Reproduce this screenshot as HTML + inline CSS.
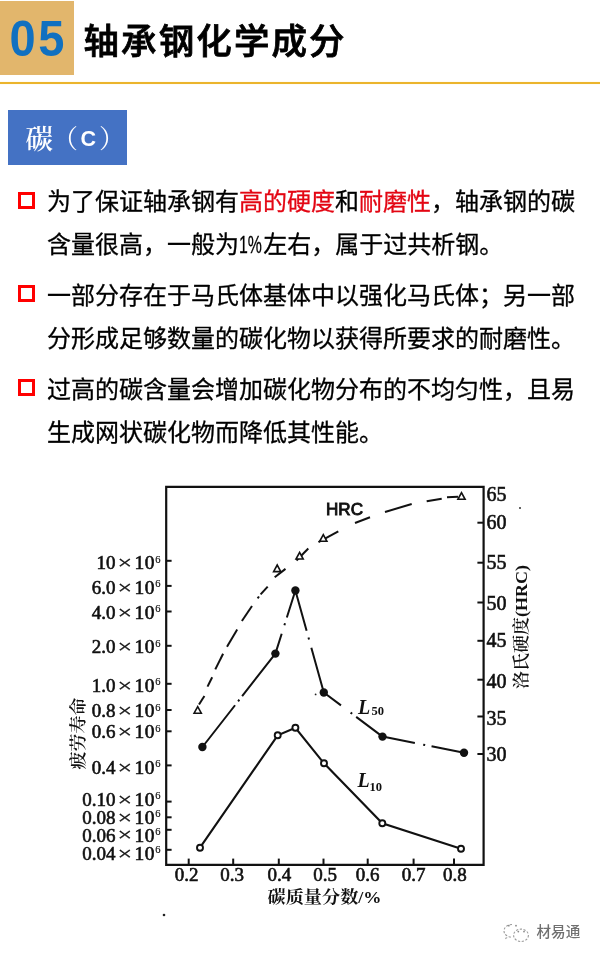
<!DOCTYPE html>
<html lang="zh-CN">
<head>
<meta charset="utf-8">
<title>轴承钢化学成分</title>
<style>
html,body{margin:0;padding:0;background:#fff;}
body{width:600px;height:960px;position:relative;overflow:hidden;font-family:"Liberation Sans","Noto Sans CJK SC",sans-serif;color:#000;}
.numbox{position:absolute;left:0;top:1px;width:74px;height:74px;background:#e2b66c;}
.num{position:absolute;left:9.5px;top:8px;font:bold 47px/60px "Liberation Sans",sans-serif;color:#1070c0;letter-spacing:2.5px;transform:scaleY(1.075);transform-origin:0 38.5px;}
.title{position:absolute;left:83.5px;top:14px;letter-spacing:2.1px;font:500 35.5px/56px "Liberation Sans","Noto Sans CJK SC",sans-serif;color:#000;-webkit-text-stroke:0.8px #000;white-space:nowrap;}
.rule{position:absolute;left:0;top:82px;width:600px;height:2px;background:#ebb42c;box-shadow:0 0 1px #f7d98a;}
.tag{position:absolute;left:8px;top:110px;width:119px;height:55px;background:#4472c4;color:#fff;}
.tag span{position:absolute;white-space:nowrap;line-height:40px;}
.tag .t1{left:17.5px;top:9.5px;font:600 27.5px/40px "Liberation Serif","Noto Serif CJK SC",serif;}
.tag .t2{left:44px;top:9.5px;font:400 26px/40px "Liberation Serif","Noto Serif CJK SC",serif;}
.tag .t3{left:72.5px;top:9px;font:bold 21.5px/40px "Liberation Sans",sans-serif;}
.tag .t4{left:91px;top:9.5px;font:400 26px/40px "Liberation Serif","Noto Serif CJK SC",serif;}
.p{position:absolute;left:47px;font-size:24px;line-height:43px;white-space:nowrap;-webkit-text-stroke-width:0.3px;}
.b{position:absolute;left:18px;width:11px;height:11px;border:3px solid #f00;}
.red{color:#e30613;}
.nar{display:inline-block;transform:scaleX(0.66);transform-origin:0 0;margin-right:-10.5px;}
.chart{position:absolute;left:0;top:0;}
.wm{position:absolute;left:536.5px;top:921.5px;font:500 14.6px/20px "Liberation Sans","Noto Sans CJK SC",sans-serif;color:#707070;}
</style>
</head>
<body>
<div class="numbox"><div class="num">05</div></div>
<div class="title">轴承钢化学成分</div>
<div class="rule"></div>
<div class="tag"><span class="t1">碳</span><span class="t2">（</span><span class="t3">C</span><span class="t4">）</span></div>

<div class="b" style="top:192px"></div>
<div class="p" style="top:180px">为了保证轴承钢有<span class="red">高的硬度</span>和<span class="red">耐磨性</span>，轴承钢的碳<br>含量很高，一般为<span class="nar">1%</span>左右，属于过共析钢。</div>
<div class="b" style="top:285px"></div>
<div class="p" style="top:273.5px">一部分存在于马氏体基体中以强化马氏体；另一部<br>分形成足够数量的碳化物以获得所要求的耐磨性。</div>
<div class="b" style="top:379px"></div>
<div class="p" style="top:367.5px">过高的碳含量会增加碳化物分布的不均匀性，且易<br>生成网状碳化物而降低其性能。</div>

<!--CHART-->
<svg class="chart" width="600" height="960" viewBox="0 0 600 960">
<g fill="none" stroke="#111" stroke-width="2.2">
<path d="M166.2 486.8H483.6V864.8H166.2Z"/>
</g>
<g stroke="#111" stroke-width="2"><path d="M166 560.8H171.6"/><path d="M166 585.9H171.6"/><path d="M166 611.5H171.6"/><path d="M166 645.8H171.6"/><path d="M166 683.8H171.6"/><path d="M166 710H171.6"/><path d="M166 731.3H171.6"/><path d="M166 765.4H171.6"/><path d="M166 801.6H171.6"/><path d="M166 817.3H171.6"/><path d="M166 829.8H171.6"/><path d="M166 849.8H171.6"/></g>
<g stroke="#111" stroke-width="2"><path d="M477.4 522.7H483.6"/><path d="M477.4 562.7H483.6"/><path d="M477.4 602.5H483.6"/><path d="M477.4 640.8H483.6"/><path d="M477.4 679.7H483.6"/><path d="M477.4 716.5H483.6"/><path d="M477.4 754H483.6"/></g>
<g stroke="#111" stroke-width="2"><path d="M188.7 864.8V858.6"/><path d="M233.2 864.8V858.6"/><path d="M278.8 864.8V858.6"/><path d="M323.5 864.8V858.6"/><path d="M367.7 864.8V858.6"/><path d="M413.6 864.8V858.6"/><path d="M454 864.8V858.6"/></g>
<g font-family="'Liberation Serif','Noto Serif CJK SC',serif" fill="#111" stroke="#111" stroke-width="0.6">
<text x="115.5" y="569.4" text-anchor="end" font-size="19">10</text>
<text transform="translate(117.6 569.1) scale(1.3 0.92)" font-size="20" stroke-width="0.25">×</text>
<text x="134.5" y="569.4" font-size="19.5" textLength="20" lengthAdjust="spacing">10</text>
<text x="155.2" y="562.5" font-size="10.5" stroke-width="0.2">6</text>
<text x="115.5" y="593.9" text-anchor="end" font-size="19">6.0</text>
<text transform="translate(117.6 593.6) scale(1.3 0.92)" font-size="20" stroke-width="0.25">×</text>
<text x="134.5" y="593.9" font-size="19.5" textLength="20" lengthAdjust="spacing">10</text>
<text x="155.2" y="587.0" font-size="10.5" stroke-width="0.2">6</text>
<text x="115.5" y="619.0" text-anchor="end" font-size="19">4.0</text>
<text transform="translate(117.6 618.7) scale(1.3 0.92)" font-size="20" stroke-width="0.25">×</text>
<text x="134.5" y="619.0" font-size="19.5" textLength="20" lengthAdjust="spacing">10</text>
<text x="155.2" y="612.1" font-size="10.5" stroke-width="0.2">6</text>
<text x="115.5" y="653.4" text-anchor="end" font-size="19">2.0</text>
<text transform="translate(117.6 653.1) scale(1.3 0.92)" font-size="20" stroke-width="0.25">×</text>
<text x="134.5" y="653.4" font-size="19.5" textLength="20" lengthAdjust="spacing">10</text>
<text x="155.2" y="646.5" font-size="10.5" stroke-width="0.2">6</text>
<text x="115.5" y="691.8" text-anchor="end" font-size="19">1.0</text>
<text transform="translate(117.6 691.5) scale(1.3 0.92)" font-size="20" stroke-width="0.25">×</text>
<text x="134.5" y="691.8" font-size="19.5" textLength="20" lengthAdjust="spacing">10</text>
<text x="155.2" y="684.9" font-size="10.5" stroke-width="0.2">6</text>
<text x="115.5" y="717.4" text-anchor="end" font-size="19">0.8</text>
<text transform="translate(117.6 717.1) scale(1.3 0.92)" font-size="20" stroke-width="0.25">×</text>
<text x="134.5" y="717.4" font-size="19.5" textLength="20" lengthAdjust="spacing">10</text>
<text x="155.2" y="710.5" font-size="10.5" stroke-width="0.2">6</text>
<text x="115.5" y="738.4" text-anchor="end" font-size="19">0.6</text>
<text transform="translate(117.6 738.1) scale(1.3 0.92)" font-size="20" stroke-width="0.25">×</text>
<text x="134.5" y="738.4" font-size="19.5" textLength="20" lengthAdjust="spacing">10</text>
<text x="155.2" y="731.5" font-size="10.5" stroke-width="0.2">6</text>
<text x="115.5" y="774.0" text-anchor="end" font-size="19">0.4</text>
<text transform="translate(117.6 773.7) scale(1.3 0.92)" font-size="20" stroke-width="0.25">×</text>
<text x="134.5" y="774.0" font-size="19.5" textLength="20" lengthAdjust="spacing">10</text>
<text x="155.2" y="767.1" font-size="10.5" stroke-width="0.2">6</text>
<text x="115.5" y="806.1" text-anchor="end" font-size="19">0.10</text>
<text transform="translate(117.6 805.8) scale(1.3 0.92)" font-size="20" stroke-width="0.25">×</text>
<text x="134.5" y="806.1" font-size="19.5" textLength="20" lengthAdjust="spacing">10</text>
<text x="155.2" y="799.2" font-size="10.5" stroke-width="0.2">6</text>
<text x="115.5" y="823.9" text-anchor="end" font-size="19">0.08</text>
<text transform="translate(117.6 823.6) scale(1.3 0.92)" font-size="20" stroke-width="0.25">×</text>
<text x="134.5" y="823.9" font-size="19.5" textLength="20" lengthAdjust="spacing">10</text>
<text x="155.2" y="817.0" font-size="10.5" stroke-width="0.2">6</text>
<text x="115.5" y="841.7" text-anchor="end" font-size="19">0.06</text>
<text transform="translate(117.6 841.4) scale(1.3 0.92)" font-size="20" stroke-width="0.25">×</text>
<text x="134.5" y="841.7" font-size="19.5" textLength="20" lengthAdjust="spacing">10</text>
<text x="155.2" y="834.8" font-size="10.5" stroke-width="0.2">6</text>
<text x="115.5" y="860.0" text-anchor="end" font-size="19">0.04</text>
<text transform="translate(117.6 859.7) scale(1.3 0.92)" font-size="20" stroke-width="0.25">×</text>
<text x="134.5" y="860.0" font-size="19.5" textLength="20" lengthAdjust="spacing">10</text>
<text x="155.2" y="853.1" font-size="10.5" stroke-width="0.2">6</text>
<text x="486.5" y="500.7" font-size="20" font-weight="normal">65</text>
<text x="486.5" y="528.7" font-size="20" font-weight="normal">60</text>
<text x="486.5" y="569.1" font-size="20" font-weight="normal">55</text>
<text x="486.5" y="610.4" font-size="20" font-weight="normal">50</text>
<text x="486.5" y="647.2" font-size="20" font-weight="normal">45</text>
<text x="486.5" y="687.5" font-size="20" font-weight="normal">40</text>
<text x="486.5" y="724.7" font-size="20" font-weight="normal">35</text>
<text x="486.5" y="760.7" font-size="20" font-weight="normal">30</text>
<text x="186.7" y="881" font-size="19" text-anchor="middle">0.2</text>
<text x="232" y="881" font-size="19" text-anchor="middle">0.3</text>
<text x="279.3" y="881" font-size="19" text-anchor="middle">0.4</text>
<text x="325" y="881" font-size="19" text-anchor="middle">0.5</text>
<text x="367.7" y="881" font-size="19" text-anchor="middle">0.6</text>
<text x="413.5" y="881" font-size="19" text-anchor="middle">0.7</text>
<text x="454.8" y="881" font-size="19" text-anchor="middle">0.8</text>
</g>
<text x="0" y="0" transform="translate(83.5 733.5) rotate(-90)" text-anchor="middle" font-family="'Liberation Serif','Noto Serif CJK SC',serif" font-size="17.5" font-weight="600" fill="#111" textLength="72" lengthAdjust="spacingAndGlyphs">疲劳寿命</text>
<text x="0" y="0" transform="translate(527 627) rotate(-90)" text-anchor="middle" font-family="'Liberation Serif','Noto Serif CJK SC',serif" font-size="16.5" font-weight="600" fill="#111" textLength="124" lengthAdjust="spacingAndGlyphs">洛氏硬度(HRC)</text>
<text x="324.5" y="903" textLength="114" lengthAdjust="spacingAndGlyphs" font-family="'Liberation Serif','Noto Serif CJK SC',serif" font-size="17" font-weight="bold" fill="#111" text-anchor="middle">碳质量分数/%</text>
<text x="326" y="515" font-family="'Liberation Sans',sans-serif" font-size="17" fill="#111" stroke="#111" stroke-width="0.9" textLength="37" lengthAdjust="spacingAndGlyphs">HRC</text>
<g font-family="'Liberation Serif',serif" fill="#111" font-weight="bold">
<text x="358" y="714" font-size="20" font-style="italic">L</text><text x="371.5" y="715" font-size="12.5">50</text>
<text x="357.5" y="787" font-size="20" font-style="italic">L</text><text x="369.5" y="791" font-size="12.5">10</text>
</g>
<g stroke="#111" stroke-width="2" fill="none"><path d="M199 704.5L204.4 696"/><path d="M207.5 686.6L212.2 677.2"/><path d="M215.3 669.4L223.1 653.75"/><path d="M227 646.7L237.2 629.5"/><path d="M241.9 621L252 606"/><path d="M257.6 598.3L259 596.5"/><path d="M260.6 594.4L267.7 586.6"/><path d="M274.7 577.2L285.5 568.9"/><path d="M296.5 560.5L308.3 548.5"/><path d="M318.5 542.2L338.3 531.3"/><path d="M355 523L370 517.3"/><path d="M385 512L411.7 504"/><path d="M426.7 501.3L441.7 498.7"/><path d="M447 497.3L458 496.8"/></g>
<g stroke="#111" stroke-width="2" fill="none"><path d="M202.4 747L275.4 653.6" stroke-dasharray="53 5 2 4.5 80"/><path d="M275.4 653.6L295.4 590.5" stroke-dasharray="20.8 9 2 6 60"/><path d="M295.4 590.5L323.8 692.5" stroke-dasharray="41.8 7 2 8.6 80"/><path d="M323.8 692.5L382.5 736.6" stroke-dasharray="21.5 12 2 5 60"/><path d="M382.5 736.6L464 752.8" stroke-dasharray="33 8.5 2 6.5 60"/></g>
<circle cx="315.6" cy="694.4" r="0.9" fill="#222"/>
<path d="M200 847.7 L277.7 735.3 L295.4 727.8 L324 763.3 L382.3 823.3 L461 848.7" fill="none" stroke="#111" stroke-width="2.1"/>
<circle cx="202.4" cy="747" r="4.2" fill="#111"/>
<circle cx="275.4" cy="653.6" r="4.2" fill="#111"/>
<circle cx="295.4" cy="590.5" r="4.2" fill="#111"/>
<circle cx="323.8" cy="692.5" r="4.2" fill="#111"/>
<circle cx="382.5" cy="736.6" r="4.2" fill="#111"/>
<circle cx="464" cy="752.8" r="4.2" fill="#111"/>
<circle cx="200" cy="847.7" r="3" fill="#fff" stroke="#111" stroke-width="1.9"/>
<circle cx="277.7" cy="735.3" r="3" fill="#fff" stroke="#111" stroke-width="1.9"/>
<circle cx="295.4" cy="727.8" r="3" fill="#fff" stroke="#111" stroke-width="1.9"/>
<circle cx="324" cy="763.3" r="3" fill="#fff" stroke="#111" stroke-width="1.9"/>
<circle cx="382.3" cy="823.3" r="3" fill="#fff" stroke="#111" stroke-width="1.9"/>
<circle cx="461" cy="848.7" r="3" fill="#fff" stroke="#111" stroke-width="1.9"/>
<path d="M194.1 713.2H201.3L197.7 706.6Z" fill="#fff" stroke="#111" stroke-width="1.6"/>
<path d="M273.6 571.6H280.8L277.2 565.0Z" fill="#fff" stroke="#111" stroke-width="1.6"/>
<path d="M296.0 559.0H303.2L299.6 552.4Z" fill="#fff" stroke="#111" stroke-width="1.6"/>
<path d="M319.7 541.3H326.9L323.3 534.7Z" fill="#fff" stroke="#111" stroke-width="1.6"/>
<path d="M457.9 499.3H465.1L461.5 492.7Z" fill="#fff" stroke="#111" stroke-width="1.6"/>
<circle cx="164" cy="915" r="1.3" fill="#222"/><circle cx="520" cy="508" r="1" fill="#333"/>
<g fill="none" stroke="#9a9a9a" stroke-width="1.1" stroke-dasharray="2.2 1.6"><path d="M512 924.5c-4.6 0-8 2.9-8 6.4 0 2 1 3.6 2.7 4.8l-0.8 2.6 3-1.5c1 .3 2 .4 3.1 .4"/><ellipse cx="521" cy="935.3" rx="7.4" ry="6.2"/></g>
<g fill="#8a8a8a"><circle cx="508.8" cy="925.7" r="0.9"/><circle cx="516" cy="925.7" r="0.9"/><circle cx="518.3" cy="931.6" r="0.9"/><circle cx="524" cy="931.6" r="0.9"/></g>
</svg>
<!--/CHART-->
<div class="wm">材易通</div>
</body>
</html>
